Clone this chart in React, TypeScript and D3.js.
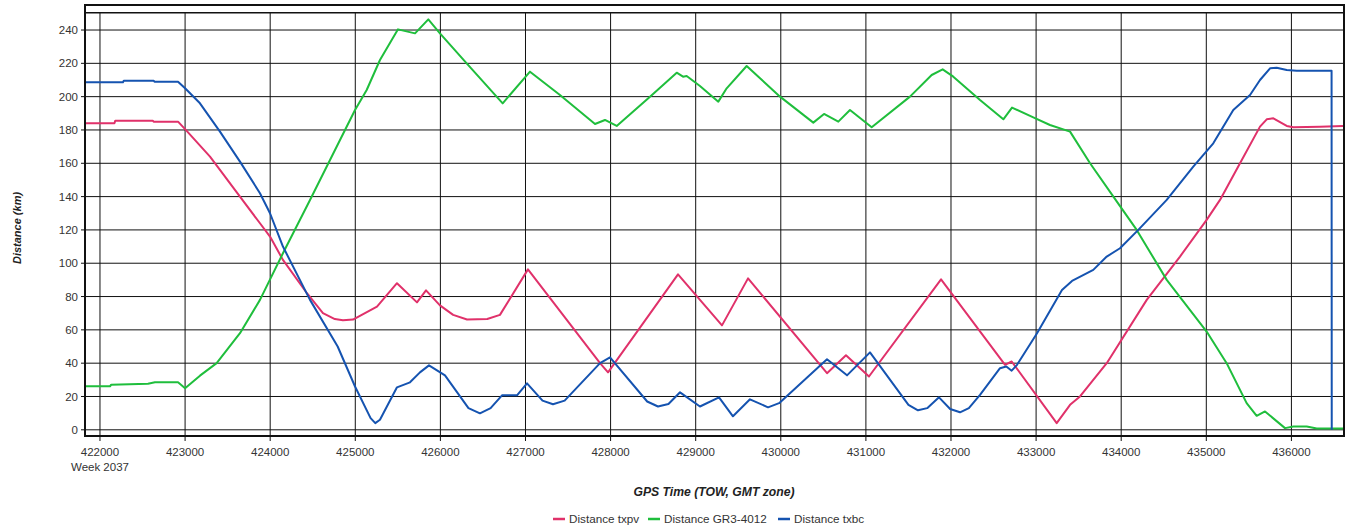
import { curveLinear, line, scaleLinear, select } from "d3";
import { useEffect, useRef } from "react";

// GPS time of week (s) ticks and distance ticks (km)
const xTicks = [
  422000, 423000, 424000, 425000, 426000, 427000, 428000, 429000, 430000,
  431000, 432000, 433000, 434000, 435000, 436000,
];
const yTicks = [0, 20, 40, 60, 80, 100, 120, 140, 160, 180, 200, 220, 240];
const weekLabel = "Week 2037";

// [TOW, distance km]
const txpv: [number, number][] = [
  [421824, 184], [422170, 184], [422180, 185.6], [422620, 185.6], [422630, 185],
  [422917, 185], [423000, 180.5], [423293, 164], [423645, 140], [423880, 124],
  [423998, 116], [424150, 102], [424432, 82], [424620, 70], [424760, 66.5],
  [424855, 65.8], [424973, 66.2], [425255, 74], [425490, 88], [425725, 76.5],
  [425831, 83.7], [425995, 74.7], [426150, 69], [426313, 66.2], [426550, 66.5],
  [426700, 69], [427029, 96.3], [427876, 40], [427970, 34.5], [428792, 93.3],
  [429309, 62.7], [429615, 90.9], [430543, 34], [430766, 44.7], [431036, 32],
  [431883, 90.3], [432576, 43], [432635, 39], [432713, 41], [433242, 4],
  [433399, 15], [433516, 20], [433830, 40], [434300, 78], [434691, 104],
  [435004, 126], [435161, 138], [435396, 160], [435631, 182], [435710, 186.4],
  [435788, 187], [435945, 182.4], [436023, 181.6], [436336, 182], [436606, 182.4],
];

const gr3: [number, number][] = [
  [421824, 26.1], [422118, 26.1], [422130, 27], [422564, 27.6], [422646, 28.5],
  [422917, 28.5], [423000, 25], [423175, 32.5], [423371, 40], [423645, 58],
  [423880, 78], [424150, 106], [424468, 138], [424703, 162], [424997, 192],
  [425134, 204], [425290, 222], [425502, 240.4], [425702, 238], [425858, 246.4],
  [425995, 238], [426309, 220], [426732, 196], [427053, 215], [427405, 201],
  [427817, 183.6], [427934, 186], [428072, 182.4], [428463, 200], [428777, 214.4],
  [428851, 212], [428894, 212.4], [429050, 206.4], [429266, 197], [429364, 205],
  [429599, 218.4], [429991, 200], [430382, 184.4], [430508, 189.6], [430676, 185],
  [430813, 192], [431068, 181.6], [431518, 200], [431773, 213], [431902, 216.4],
  [432027, 212], [432341, 198], [432615, 186.4], [432717, 193.4], [432967, 187.6],
  [433163, 183], [433399, 179], [433634, 160], [433908, 140], [434182, 120],
  [434535, 90], [435004, 59], [435239, 40], [435474, 16], [435592, 8.4],
  [435690, 11], [435925, 1], [436023, 2], [436180, 2], [436298, 0.8],
  [436618, 0.8],
];

const txbc: [number, number][] = [
  [421824, 208.6], [422270, 208.6], [422280, 209.6], [422630, 209.6], [422640, 209],
  [422917, 209], [423000, 205], [423175, 196], [423410, 179], [423645, 161],
  [423880, 142], [423998, 130], [424150, 110], [424468, 78], [424793, 50],
  [424997, 26], [425180, 7], [425235, 4], [425290, 6], [425490, 25.5],
  [425643, 28.5], [425760, 34.5], [425866, 38.7], [426054, 32.7], [426330, 13],
  [426465, 9.9], [426590, 13], [426724, 20.7], [426900, 20.7], [427018, 27.9],
  [427200, 17.5], [427323, 15.3], [427460, 17.5], [427876, 40], [427993, 43.5],
  [428430, 17], [428557, 14], [428680, 15.5], [428816, 22.5], [429050, 14],
  [429274, 19.5], [429438, 8.1], [429638, 18.3], [429850, 13.5], [429980, 16],
  [430543, 42.3], [430778, 32.7], [431048, 46.5], [431500, 15], [431612, 11.7],
  [431720, 13], [431859, 19.5], [431990, 12.5], [432106, 10.5], [432210, 13],
  [432341, 21], [432576, 37], [432650, 38], [432713, 35.5], [432776, 39],
  [433011, 58], [433304, 84], [433422, 89.4], [433672, 96], [433830, 104],
  [433986, 109], [434201, 120], [434535, 138], [434847, 158], [435082, 172],
  [435317, 192], [435514, 201], [435631, 210], [435749, 217], [435827, 217.4],
  [435945, 216], [436062, 215.6], [436472, 215.6], [436474, 0],
];

const seriesNames = ["Distance txpv", "Distance GR3-4012", "Distance txbc"];
const seriesColors = ["#e0316a", "#1fbe3c", "#1553b0"];

const width = 1346;
const height = 531;
const left = 85;
const right = 1344;
const frameTop = 5;
const plotTop = 12.7;
const bottom = 436;
const font = "'Liberation Sans', Arial, sans-serif";

export default function App() {
  const ref = useRef<SVGSVGElement>(null);

  useEffect(() => {
    const svg = select(ref.current);
    svg.selectAll("*").remove();

    const x = scaleLinear().domain([421824, 436618]).range([left, right]);
    const y = scaleLinear().domain([-3.72, 250.4]).range([bottom, plotTop]);

    svg.append("rect").attr("width", width).attr("height", height).attr("fill", "#fff");

    const grid = svg.append("g").attr("stroke", "#111").attr("stroke-width", 1);
    yTicks.forEach((v) => {
      grid
        .append("line")
        .attr("x1", left - 4)
        .attr("x2", right)
        .attr("y1", y(v))
        .attr("y2", y(v));
    });
    xTicks.forEach((t) => {
      grid
        .append("line")
        .attr("x1", x(t))
        .attr("x2", x(t))
        .attr("y1", plotTop)
        .attr("y2", bottom + 5);
    });
    grid
      .append("line")
      .attr("x1", left)
      .attr("x2", right)
      .attr("y1", plotTop)
      .attr("y2", plotTop)
      .attr("stroke-width", 1.5);

    const path = line<[number, number]>()
      .x((d) => x(d[0]))
      .y((d) => y(d[1]))
      .curve(curveLinear);

    [txpv, gr3, txbc].forEach((data, i) => {
      svg
        .append("path")
        .attr("d", path(data))
        .attr("fill", "none")
        .attr("stroke", seriesColors[i])
        .attr("stroke-width", 2)
        .attr("stroke-linejoin", "round");
    });

    svg
      .append("rect")
      .attr("x", left)
      .attr("y", frameTop)
      .attr("width", right - left)
      .attr("height", bottom - frameTop)
      .attr("fill", "none")
      .attr("stroke", "#111")
      .attr("stroke-width", 2);

    const yLabels = svg
      .append("g")
      .attr("font-family", font)
      .attr("font-size", 11.5)
      .attr("fill", "#333")
      .attr("text-anchor", "end");
    yTicks.forEach((v) => {
      yLabels.append("text").attr("x", 78).attr("y", y(v)).attr("dy", "0.35em").text(v);
    });

    const xLabels = svg
      .append("g")
      .attr("font-family", font)
      .attr("font-size", 11.5)
      .attr("fill", "#333")
      .attr("text-anchor", "middle");
    xTicks.forEach((t) => {
      xLabels.append("text").attr("x", x(t)).attr("y", 456).text(t);
    });
    xLabels.append("text").attr("x", x(xTicks[0])).attr("y", 471).text(weekLabel);

    svg
      .append("text")
      .attr("transform", "translate(21,228) rotate(-90)")
      .attr("text-anchor", "middle")
      .attr("font-family", font)
      .attr("font-size", 11)
      .attr("font-weight", "bold")
      .attr("font-style", "italic")
      .attr("fill", "#222")
      .text("Distance (km)");

    svg
      .append("text")
      .attr("x", 714)
      .attr("y", 496)
      .attr("text-anchor", "middle")
      .attr("font-family", font)
      .attr("font-size", 12.2)
      .attr("font-weight", "bold")
      .attr("font-style", "italic")
      .attr("fill", "#222")
      .text("GPS Time (TOW, GMT zone)");

    const legendX = [553, 648, 778];
    const legend = svg.append("g").attr("font-family", font).attr("font-size", 11.7).attr("fill", "#333");
    seriesNames.forEach((name, i) => {
      legend
        .append("line")
        .attr("x1", legendX[i])
        .attr("x2", legendX[i] + 12)
        .attr("y1", 519)
        .attr("y2", 519)
        .attr("stroke", seriesColors[i])
        .attr("stroke-width", 2.5);
      legend
        .append("text")
        .attr("x", legendX[i] + 16)
        .attr("y", 523)
        .text(name);
    });

    return () => {
      svg.selectAll("*").remove();
    };
  }, []);

  return (
    <svg
      ref={ref}
      width={width}
      height={height}
      style={{ position: "absolute", left: 0, top: 0, display: "block" }}
    />
  );
}
